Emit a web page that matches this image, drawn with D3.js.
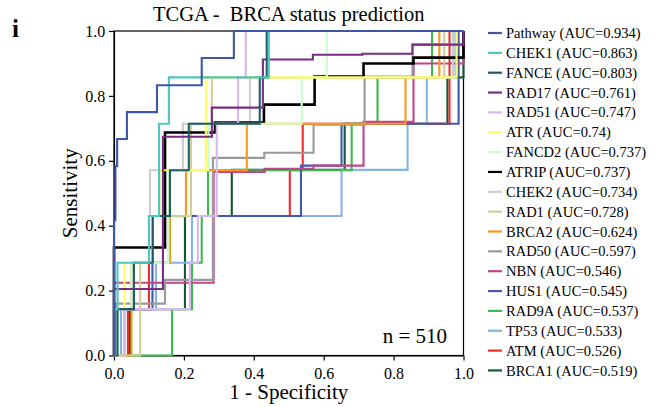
<!DOCTYPE html>
<html>
<head>
<meta charset="utf-8">
<script src="https://cdn.jsdelivr.net/npm/d3@7/dist/d3.min.js"></script>
<style>
  html, body { margin: 0; padding: 0; background: #fff; }
  svg { display: block; font-family: "Liberation Serif", "Times New Roman", serif; }
</style>
</head>
<body>
<svg id="chart" width="664" height="407"></svg>
<script>
// ROC curves, one per predictor: [false positive rate, true positive rate] at each threshold
const rocPathway = [[0,0],[0,0.417],[0.004,0.583],[0.009,0.667],[0.037,0.75],[0.123,0.833],[0.251,0.917],[0.343,1],[1,1]];
const rocCHEK1   = [[0,0],[0,0.143],[0.01,0.286],[0.1,0.43],[0.129,0.714],[0.157,0.857],[0.443,1],[1,1]];
const rocFANCE   = [[0,0],[0.01,0.143],[0.057,0.286],[0.111,0.43],[0.16,0.571],[0.214,0.714],[0.417,0.857],[0.437,1],[1,1]];
const rocRAD17   = [[0,0],[0,0.205],[0.14,0.674],[0.28,0.764],[0.426,0.912],[0.569,0.927],[0.711,0.93],[0.854,0.958],[1,1]];
const rocRAD51   = [[0,0],[0.031,0.143],[0.217,0.286],[0.24,0.43],[0.294,0.714],[0.355,0.857],[0.377,1],[1,1]];
const rocATR     = [[0,0],[0.03,0.286],[0.11,0.43],[0.13,0.571],[0.263,0.857],[0.98,1],[1,1]];
const rocFANCD2  = [[0,0],[0.01,0.143],[0.05,0.286],[0.155,0.43],[0.157,0.571],[0.27,0.714],[0.537,0.857],[0.609,1],[1,1]];
const rocATRIP   = [[0,0],[0,0.333],[0.146,0.687],[0.289,0.718],[0.429,0.773],[0.574,0.86],[0.714,0.9],[0.857,0.918],[1,1]];
const rocCHEK2   = [[0,0],[0.01,0.143],[0.05,0.286],[0.1,0.43],[0.103,0.571],[0.197,0.714],[0.389,0.857],[0.97,1],[1,1]];
const rocRAD1    = [[0,0],[0.075,0.286],[0.155,0.43],[0.22,0.714],[0.28,0.857],[0.945,1],[1,1]];
const rocBRCA2   = [[0,0],[0.05,0.286],[0.16,0.429],[0.206,0.571],[0.38,0.714],[0.834,0.857],[0.931,1],[1,1]];
const rocRAD50   = [[0,0],[0.005,0.16],[0.146,0.233],[0.283,0.609],[0.43,0.625],[0.571,0.711],[0.717,0.86],[0.854,0.958],[1,1]];
const rocNBN     = [[0,0],[0,0.224],[0.285,0.566],[0.431,0.575],[0.571,0.585],[0.714,0.72],[0.857,0.9],[1,1]];
const rocHUS1    = [[0,0],[0.03,0.143],[0.11,0.43],[0.535,0.585],[0.651,0.714],[0.986,1],[1,1]];
const rocRAD9A   = [[0,0],[0.166,0.143],[0.223,0.286],[0.251,0.43],[0.269,0.571],[0.68,0.714],[0.754,0.857],[0.91,1],[1,1]];
const rocTP53    = [[0,0],[0.02,0.143],[0.12,0.286],[0.223,0.43],[0.651,0.572],[0.84,0.714],[0.895,0.857],[0.977,1],[1,1]];
const rocATM     = [[0,0],[0.04,0.143],[0.1,0.286],[0.157,0.43],[0.503,0.571],[0.54,0.714],[0.96,1],[1,1]];
const rocBRCA1   = [[0,0],[0.046,0.143],[0.203,0.43],[0.337,0.572],[0.66,0.714],[0.954,0.857],[1,1]];

const predictors = ["Pathway","CHEK1","FANCE","RAD17","RAD51","ATR","FANCD2","ATRIP","CHEK2",
                    "RAD1","BRCA2","RAD50","NBN","HUS1","RAD9A","TP53","ATM","BRCA1"];
const aucLabels  = ["0.934","0.863","0.803","0.761","0.747","0.74","0.737","0.737","0.734",
                    "0.728","0.624","0.597","0.546","0.545","0.537","0.533","0.526","0.519"];
const curves = [rocPathway, rocCHEK1, rocFANCE, rocRAD17, rocRAD51, rocATR, rocFANCD2, rocATRIP, rocCHEK2,
                rocRAD1, rocBRCA2, rocRAD50, rocNBN, rocHUS1, rocRAD9A, rocTP53, rocATM, rocBRCA1];
const lineColors = ["#3f55a6","#4fc6c0","#1e5c6b","#7b2c83","#d9b8ec","#ffff66","#ccffcc","#000000","#cccccc",
                    "#cfcf95","#f8981d","#999999","#c2448a","#3f5ab0","#3dbb4a","#85b4e0","#ee2d2d","#0f5a2e"];
const axisTicks = [0, 0.2, 0.4, 0.6, 0.8, 1.0];
const sampleCount = 510;

const svg = d3.select("#chart");
const x = d3.scaleLinear().domain([0, 1]).range([114, 463.5]);
const y = d3.scaleLinear().domain([0, 1]).range([355.5, 31]);

// axes with outward ticks
const fmt = d3.format(".1f");
const gx = svg.append("g").attr("transform", `translate(0,${y(0)})`)
  .call(d3.axisBottom(x).tickValues(axisTicks).tickFormat(fmt).tickSize(5).tickSizeOuter(0));
const gy = svg.append("g").attr("transform", `translate(${x(0)},0)`)
  .call(d3.axisLeft(y).tickValues(axisTicks).tickFormat(fmt).tickSize(5).tickSizeOuter(0));
[gx, gy].forEach(g => {
  g.selectAll("path,line").attr("stroke", "#000").attr("stroke-width", 1.2);
  g.selectAll("text").attr("fill", "#000").style("font-family", "Liberation Serif").style("font-size", "16px");
});
gx.selectAll("text").attr("dy", "0.95em");
gy.selectAll("text").attr("dx", "-0.05em");

// plot frame
svg.append("rect")
  .attr("x", x(0)).attr("y", y(1))
  .attr("width", x(1) - x(0)).attr("height", y(0) - y(1))
  .attr("fill", "none").attr("stroke", "#000").attr("stroke-width", 1.2);

// ROC step curves, first predictor drawn last so it sits on top
const line = d3.line().x(d => x(d[0])).y(d => y(d[1])).curve(d3.curveStepAfter);
const order = d3.range(curves.length).reverse();
svg.append("g").selectAll("path").data(order).join("path")
  .attr("d", i => line(curves[i]))
  .attr("fill", "none")
  .attr("stroke", i => lineColors[i])
  .attr("stroke-width", i => predictors[i] === "ATRIP" ? 2.6 : 2.1)
  .attr("stroke-linejoin", "miter");

// titles and labels
svg.append("text").attr("x", (x(0) + x(1)) / 2).attr("y", 21)
  .attr("text-anchor", "middle").style("font-size", "20.5px").style("white-space", "pre")
  .text("TCGA -  BRCA status prediction");
svg.append("text").attr("x", (x(0) + x(1)) / 2).attr("y", 399)
  .attr("text-anchor", "middle").style("font-size", "21px")
  .text("1 - Specificity");
svg.append("text").attr("transform", `translate(77,${(y(0) + y(1)) / 2}) rotate(-90)`)
  .attr("text-anchor", "middle").style("font-size", "21px")
  .text("Sensitivity");
svg.append("text").attr("x", 12).attr("y", 37)
  .style("font-size", "25px").style("font-weight", "bold")
  .text("i");
svg.append("text").attr("x", 447).attr("y", 343)
  .attr("text-anchor", "end").style("font-size", "21px")
  .text(`n = ${sampleCount}`);

// legend
const legend = svg.append("g");
const rowH = 19.85;
const rows = legend.selectAll("g").data(predictors).join("g")
  .attr("transform", (d, i) => `translate(0,${33 + i * rowH})`);
rows.append("line").attr("x1", 488).attr("x2", 502).attr("y1", 0).attr("y2", 0)
  .attr("stroke", (d, i) => lineColors[i]).attr("stroke-width", 2.2);
rows.append("text").attr("x", 506).attr("y", 0).attr("dy", "0.35em")
  .style("font-size", "14.5px")
  .text((d, i) => `${d} (AUC=${aucLabels[i]})`);
</script>
</body>
</html>
